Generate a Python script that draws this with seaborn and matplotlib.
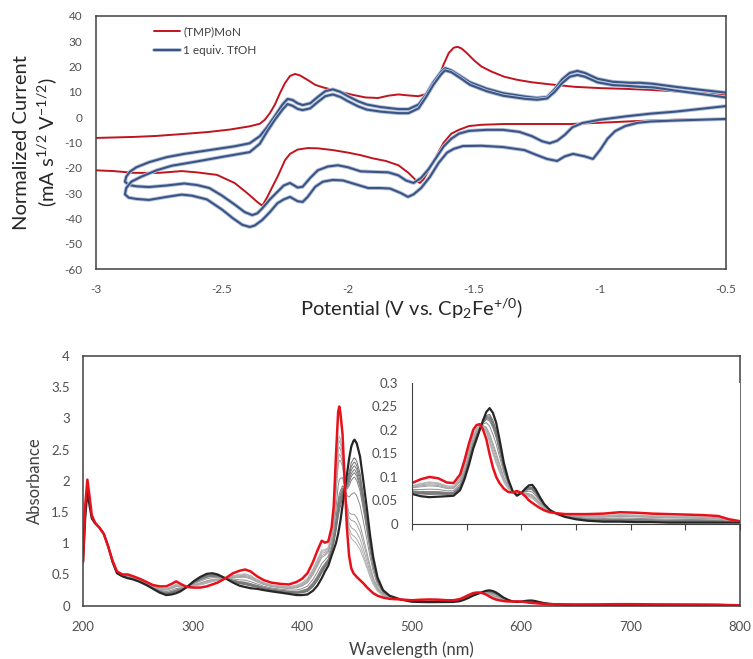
import matplotlib
matplotlib.use('Agg')
import matplotlib.pyplot as plt
import matplotlib.patheffects as pe
from matplotlib.ticker import FuncFormatter, MultipleLocator
import seaborn as sns
import pandas as pd

# ---------------- top panel: cyclic voltammograms ----------------
# (TMP)MoN, forward branch (-3 -> -0.5 V)
red_up_v = [-3.0, -2.85, -2.76, -2.65, -2.56, -2.47, -2.39, -2.35, -2.33, -2.31, -2.29, -2.27,
            -2.25, -2.23, -2.21, -2.19, -2.16, -2.13, -2.10, -2.06, -2.02, -1.98, -1.93, -1.88,
            -1.84, -1.80, -1.76, -1.72, -1.69, -1.66, -1.64, -1.62, -1.60, -1.58, -1.565, -1.55,
            -1.53, -1.50, -1.47, -1.43, -1.38, -1.33, -1.27, -1.20, -1.10, -1.00, -0.90, -0.80,
            -0.70, -0.60, -0.50]
red_up_i = [-8.2, -7.8, -7.4, -6.6, -5.9, -4.9, -3.6, -2.6, -1.0, 1.6, 5.0, 9.5,
            13.5, 16.3, 17.1, 16.5, 14.7, 12.8, 11.8, 10.8, 9.8, 8.8, 7.8, 7.6,
            8.5, 9.0, 8.6, 8.3, 9.2, 12.5, 16.0, 21.0, 25.4, 27.5, 27.8, 27.2,
            25.5, 22.5, 20.0, 18.0, 16.0, 14.8, 13.8, 13.0, 12.0, 11.5, 11.2, 10.8,
            10.2, 9.5, 8.8]
# (TMP)MoN, return branch (-0.5 -> -3 V)
red_dn_v = [-0.50, -0.70, -0.85, -1.00, -1.12, -1.25, -1.385, -1.47, -1.52, -1.56, -1.59, -1.62,
            -1.65, -1.68, -1.70, -1.715, -1.73, -1.76, -1.80, -1.85, -1.90, -1.95, -2.00, -2.06,
            -2.12, -2.16, -2.20, -2.23, -2.25, -2.28, -2.30, -2.32, -2.34, -2.36, -2.40, -2.45,
            -2.52, -2.60, -2.66, -2.75, -2.85, -2.93, -3.0]
red_dn_i = [-0.7, -1.0, -1.5, -2.2, -2.7, -2.7, -2.7, -3.0, -3.5, -5.0, -6.5, -10.0,
            -15.5, -21.0, -24.5, -26.0, -25.0, -22.0, -19.0, -17.3, -16.3, -15.0, -14.0, -13.0,
            -12.3, -12.2, -12.8, -14.5, -17.0, -23.6, -27.5, -31.5, -35.0, -33.5, -30.0, -26.0,
            -22.8, -21.8, -21.3, -22.0, -22.0, -21.3, -21.0]

# 1 equiv. TfOH, scan 1 (return branch then forward branch)
blue1_v = [-0.50, -0.60, -0.70, -0.80, -0.90, -1.00, -1.07, -1.11, -1.14, -1.17, -1.20, -1.23,
           -1.27, -1.32, -1.385, -1.45, -1.52, -1.56, -1.59, -1.62, -1.65, -1.68, -1.71, -1.74,
           -1.77, -1.80, -1.84, -1.90, -1.95, -2.00, -2.04, -2.08, -2.12, -2.15, -2.18, -2.20,
           -2.23, -2.255, -2.28, -2.31, -2.34, -2.36, -2.38, -2.41, -2.45, -2.50, -2.55, -2.60,
           -2.65, -2.72, -2.79, -2.84, -2.87, -2.885,
           -2.88, -2.865, -2.84, -2.79, -2.72, -2.65, -2.55, -2.45, -2.39, -2.35, -2.32, -2.29,
           -2.26, -2.24, -2.22, -2.20, -2.18, -2.15, -2.12, -2.09, -2.06, -2.03, -2.00, -1.96,
           -1.925, -1.87, -1.80, -1.76, -1.72, -1.69, -1.66, -1.63, -1.615, -1.59, -1.55, -1.516,
           -1.45, -1.385, -1.30, -1.25, -1.21, -1.18, -1.15, -1.12, -1.09, -1.06, -1.01, -0.95,
           -0.88, -0.84, -0.79, -0.70, -0.60, -0.50]
blue1_i = [4.4, 3.3, 2.2, 1.4, 0.3, -1.0, -2.3, -4.0, -7.0, -9.3, -10.3, -9.5,
           -7.5, -5.8, -5.0, -5.0, -5.4, -6.5, -8.5, -11.5, -16.0, -20.5, -24.0, -26.0,
           -25.0, -23.0, -21.8, -21.6, -21.4, -19.8, -19.0, -19.5, -21.0, -24.0, -27.5, -27.8,
           -26.0, -27.0, -29.5, -32.5, -36.0, -38.0, -38.7, -37.5, -34.5, -31.0, -28.0, -26.8,
           -26.2, -27.0, -27.6, -27.3, -26.8, -25.5,
           -23.5, -21.5, -19.8, -17.8, -15.8, -14.5, -13.0, -11.5, -10.3, -7.5, -3.8, 0.5,
           5.0, 7.2, 6.8, 5.5, 4.8, 5.5, 8.0, 10.3, 11.0, 10.0, 8.3, 6.3,
           5.0, 4.0, 3.2, 3.2, 5.0, 9.0, 14.0, 18.0, 19.4, 18.5, 16.0, 13.8,
           11.3, 9.5, 8.2, 7.6, 8.0, 11.0, 15.0, 17.5, 18.3, 17.5, 15.2, 14.0,
           13.6, 13.6, 13.2, 12.0, 10.8, 9.7]

# 1 equiv. TfOH, scan 2
blue2_v = [-0.50, -0.60, -0.70, -0.80, -0.85, -0.90, -0.94, -0.97, -1.00, -1.028, -1.06, -1.107,
           -1.14, -1.17, -1.21, -1.25, -1.30, -1.385, -1.47, -1.544, -1.58, -1.607, -1.64, -1.675,
           -1.71, -1.74, -1.762, -1.79, -1.833, -1.873, -1.92, -1.97, -2.02, -2.06, -2.10, -2.13,
           -2.16, -2.18, -2.20, -2.23, -2.255, -2.28, -2.31, -2.34, -2.37, -2.39, -2.42, -2.456,
           -2.50, -2.56, -2.62, -2.66, -2.72, -2.79, -2.84, -2.87, -2.885,
           -2.88, -2.86, -2.82, -2.76, -2.70, -2.60, -2.50, -2.39, -2.35, -2.32, -2.29, -2.26,
           -2.24, -2.22, -2.20, -2.18, -2.15, -2.12, -2.09, -2.06, -2.03, -2.00, -1.96, -1.925,
           -1.87, -1.80, -1.76, -1.72, -1.69, -1.66, -1.63, -1.615, -1.59, -1.55, -1.516, -1.45,
           -1.385, -1.30, -1.25, -1.21, -1.18, -1.15, -1.12, -1.09, -1.06, -1.01, -0.95, -0.88,
           -0.84, -0.79, -0.70, -0.60, -0.50]
blue2_i = [-0.7, -1.0, -1.3, -1.7, -2.2, -3.5, -5.5, -8.5, -13.0, -16.5, -15.5, -14.5,
           -15.5, -17.3, -16.5, -15.0, -13.0, -11.8, -11.3, -11.4, -12.5, -14.0, -18.0, -23.6,
           -28.0, -30.5, -31.5, -30.0, -28.2, -28.0, -28.0, -26.5, -25.0, -24.8, -25.5, -27.5,
           -31.5, -33.5, -33.2, -31.5, -32.5, -34.0, -37.5, -40.6, -42.8, -43.4, -42.5, -40.0,
           -36.5, -32.5, -31.0, -30.6, -31.5, -32.7, -32.3, -31.8, -30.5,
           -28.0, -25.5, -23.5, -21.0, -19.2, -17.5, -15.7, -13.8, -10.5, -5.5, -1.0, 3.0,
           5.2, 4.5, 3.3, 2.8, 3.5, 6.0, 8.3, 9.0, 8.0, 6.3, 4.3, 3.0,
           2.2, 1.6, 1.6, 3.5, 8.0, 13.0, 17.0, 18.5, 17.8, 15.2, 12.8, 10.3,
           8.5, 7.3, 6.9, 7.4, 10.0, 13.5, 16.0, 16.7, 16.0, 13.8, 12.7, 12.3,
           12.0, 11.8, 10.5, 9.2, 7.8]

# ---------------- bottom panel: UV-vis titration ----------------
wl = [200, 202, 204, 206, 208, 211, 215, 219, 223, 227, 231, 236, 241, 246, 252, 258, 264, 270,
      276, 281, 285, 289, 295, 301, 307, 313, 318, 323, 330, 337, 343, 348, 353, 359, 365, 372,
      380, 388, 395, 400, 405, 410, 414, 418, 421, 424, 427, 429, 431, 433, 434, 435, 437, 439,
      441, 443, 445, 447, 448, 450, 453, 456, 459, 462, 465, 469, 474, 480, 490, 500, 508, 516,
      524, 532, 538, 544, 548, 552, 556, 559, 562, 565, 568, 571, 574, 577, 580, 584, 588, 592,
      596, 600, 604, 607, 610, 613, 617, 621, 626, 632, 640, 650, 660, 675, 690, 705, 720, 735,
      750, 765, 780, 790, 800]
abs_start = [0.70, 1.60, 2.02, 1.75, 1.45, 1.33, 1.25, 1.15, 0.95, 0.72, 0.55, 0.50, 0.50, 0.47,
             0.43, 0.38, 0.33, 0.31, 0.31, 0.35, 0.39, 0.35, 0.30, 0.29, 0.29, 0.31, 0.34, 0.37,
             0.44, 0.52, 0.56, 0.58, 0.55, 0.47, 0.41, 0.37, 0.35, 0.34, 0.38, 0.43, 0.52, 0.70,
             0.88, 1.04, 1.01, 1.03, 1.25, 1.60, 2.40, 3.10, 3.19, 3.10, 2.75, 2.00, 1.25, 0.80,
             0.60, 0.52, 0.50, 0.46, 0.41, 0.36, 0.30, 0.25, 0.20, 0.16, 0.13, 0.11, 0.10, 0.087,
             0.095, 0.100, 0.097, 0.088, 0.087, 0.105, 0.135, 0.170, 0.200, 0.210, 0.212, 0.200,
             0.180, 0.148, 0.120, 0.100, 0.087, 0.075, 0.068, 0.067, 0.070, 0.066, 0.058, 0.050,
             0.045, 0.040, 0.034, 0.029, 0.025, 0.023, 0.021, 0.021, 0.021, 0.022, 0.025, 0.024,
             0.022, 0.021, 0.020, 0.019, 0.017, 0.010, 0.006]
abs_end = [0.70, 1.40, 1.83, 1.60, 1.40, 1.32, 1.25, 1.15, 0.95, 0.70, 0.52, 0.47, 0.44, 0.42,
           0.38, 0.33, 0.27, 0.21, 0.17, 0.18, 0.20, 0.23, 0.30, 0.39, 0.46, 0.51, 0.52, 0.50,
           0.44, 0.37, 0.32, 0.30, 0.28, 0.27, 0.25, 0.23, 0.21, 0.19, 0.17, 0.17, 0.18, 0.24,
           0.32, 0.44, 0.55, 0.64, 0.80, 0.90, 1.00, 1.15, 1.25, 1.35, 1.60, 1.86, 2.10, 2.35,
           2.55, 2.64, 2.66, 2.60, 2.39, 2.00, 1.59, 1.15, 0.78, 0.45, 0.25, 0.16, 0.10, 0.064,
           0.059, 0.057, 0.058, 0.059, 0.060, 0.072, 0.095, 0.125, 0.160, 0.180, 0.200, 0.220,
           0.238, 0.246, 0.236, 0.215, 0.180, 0.130, 0.095, 0.070, 0.060, 0.066, 0.076, 0.082,
           0.083, 0.074, 0.057, 0.042, 0.030, 0.022, 0.015, 0.010, 0.007, 0.005, 0.005, 0.004,
           0.004, 0.003, 0.003, 0.003, 0.003, 0.003, 0.003]
# Soret heights at 448 nm of the intermediate spectra
mid_peaks = [2.37, 2.30, 2.24, 2.18, 2.13, 2.06, 1.81, 1.46, 1.35, 1.22, 1.11, 1.03]

sns.set_style('white')
plt.rcParams['font.family'] = ['Lato', 'DejaVu Sans']
plt.rcParams['mathtext.fontset'] = 'custom'
plt.rcParams['mathtext.rm'] = 'Lato'
plt.rcParams['mathtext.default'] = 'regular'

fmt = FuncFormatter(lambda v, p: '%g' % round(v, 3))
tick_col = '#505050'
spine_col = '#404040'

fig = plt.figure(figsize=(7.53, 6.59), dpi=100)
fig.patch.set_facecolor('white')
ax1 = fig.add_axes([96/753, 1-269/659, 630/753, 253/659])
ax2 = fig.add_axes([83/753, 1-605.7/659, 657/753, 249.7/659])
ax3 = fig.add_axes([412/753, 1-524/659, 328/753, 141.3/659])

# ---- CV ----
red_cv = '#c0141e'
blue_cv = '#3a5486'
halo = [pe.Stroke(linewidth=2.8, foreground='#b6c3d8'), pe.Normal()]
sns.lineplot(x=red_up_v, y=red_up_i, sort=False, estimator=None, color=red_cv, lw=1.4,
             ax=ax1, label='(TMP)MoN')
sns.lineplot(x=red_dn_v, y=red_dn_i, sort=False, estimator=None, color=red_cv, lw=1.4, ax=ax1)
sns.lineplot(x=blue1_v, y=blue1_i, sort=False, estimator=None, color=blue_cv, lw=1.5,
             ax=ax1, label='1 equiv. TfOH', path_effects=halo)
sns.lineplot(x=blue2_v, y=blue2_i, sort=False, estimator=None, color=blue_cv, lw=1.5,
             ax=ax1, path_effects=halo)
ax1.set_xlim(-3, -0.5)
ax1.set_ylim(-60, 40)
ax1.xaxis.set_major_locator(MultipleLocator(0.5))
ax1.yaxis.set_major_locator(MultipleLocator(10))
ax1.xaxis.set_major_formatter(fmt)
ax1.yaxis.set_major_formatter(fmt)
ax1.tick_params(axis='both', length=0, labelsize=8.5, labelcolor=tick_col)
ax1.tick_params(axis='x', pad=11)
ax1.tick_params(axis='y', pad=10)
ax1.set_ylabel('Normalized Current\n(mA s$^{1/2}$ V$^{\u22121/2}$)', fontsize=14.5,
               va='center', linespacing=1.3)
ax1.yaxis.set_label_coords(-0.095, 0.5)
ax1.set_xlabel('Potential (V vs. Cp$_2$Fe$^{+/0}$)', fontsize=14.5, va='center')
ax1.xaxis.set_label_coords(0.5, -0.158)
leg = ax1.legend(loc='upper left', bbox_to_anchor=(0.075, 1.0), frameon=False, fontsize=8.5,
                 handlelength=2.2, handletextpad=0.3, labelspacing=0.6)
for t in leg.get_texts():
    t.set_color('#404040')

# ---- UV-vis ----
spec = pd.DataFrame({'wl': wl, 'start': abs_start, 'end': abs_end})
k448 = wl.index(448)
for i, h in enumerate(mid_peaks):
    f = (h - abs_start[k448]) / (abs_end[k448] - abs_start[k448])
    spec['mid%d' % i] = spec['start'] + f * (spec['end'] - spec['start'])

for ax in (ax2, ax3):
    for i, h in enumerate(mid_peaks):
        f = (h - abs_start[k448]) / (abs_end[k448] - abs_start[k448])
        g = 0.80 - 0.42 * f
        sns.lineplot(data=spec, x='wl', y='mid%d' % i, color=(g, g, g), lw=0.7, ax=ax)
    sns.lineplot(data=spec, x='wl', y='end', color='#262626', lw=1.6, ax=ax)
    sns.lineplot(data=spec, x='wl', y='start', color='#e8101a', lw=1.8, ax=ax)
    for s in ax.spines.values():
        s.set_color(spine_col)
    ax.set_xlabel('')
    ax.set_ylabel('')

for s in ax1.spines.values():
    s.set_color(spine_col)
    s.set_linewidth(1.1)
for s in ax2.spines.values():
    s.set_linewidth(1.1)

ax2.set_xlim(200, 800)
ax2.set_ylim(0, 4)
ax2.xaxis.set_major_locator(MultipleLocator(100))
ax2.yaxis.set_major_locator(MultipleLocator(0.5))
ax2.xaxis.set_major_formatter(fmt)
ax2.yaxis.set_major_formatter(fmt)
ax2.tick_params(axis='both', length=0, labelsize=9.5, labelcolor=tick_col)
ax2.tick_params(axis='x', pad=11)
ax2.tick_params(axis='y', pad=9.5)
ax2.set_ylabel('Absorbance', fontsize=12, color='#404040', va='center')
ax2.yaxis.set_label_coords(-0.073, 0.5)
ax2.set_xlabel('Wavelength (nm)', fontsize=12, color='#404040', va='center')
ax2.xaxis.set_label_coords(0.5, -0.177)

ax3.set_facecolor('white')
ax3.spines['top'].set_visible(False)
ax3.spines['right'].set_visible(False)
ax3.set_xlim(500, 800)
ax3.set_ylim(0, 0.3)
ax3.xaxis.set_major_locator(MultipleLocator(50))
ax3.yaxis.set_major_locator(MultipleLocator(0.05))
ax3.yaxis.set_major_formatter(fmt)
ax3.set_xticklabels([])
ax3.tick_params(axis='x', direction='out', length=4, color=spine_col, bottom=True)
ax3.tick_params(axis='y', length=0, labelsize=9.5, labelcolor=tick_col, pad=10)

fig.savefig('out.png', dpi=100)
